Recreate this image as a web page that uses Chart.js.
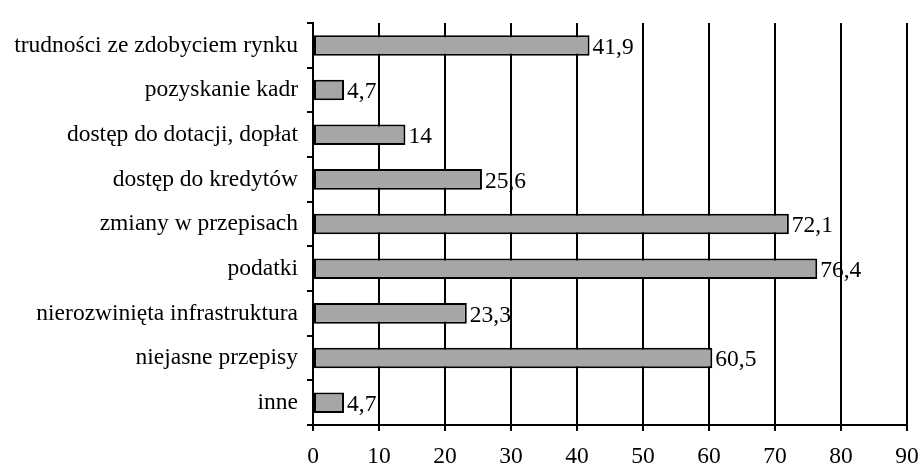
<!DOCTYPE html>
<html>
<head>
<meta charset="utf-8">
<script src="https://cdn.jsdelivr.net/npm/chart.js@4"></script>
<style>
  body { margin: 0; background: #fff; }
  #wrap { width: 919px; height: 465px; }
</style>
</head>
<body>
<div id="wrap"><canvas id="barChart" width="919" height="465"></canvas></div>
<script>
const categories = [
    'trudności ze zdobyciem rynku',
    'pozyskanie kadr',
    'dostęp do dotacji, dopłat',
    'dostęp do kredytów',
    'zmiany w przepisach',
    'podatki',
    'nierozwinięta infrastruktura',
    'niejasne przepisy',
    'inne'
];
const values = [41.9, 4.7, 14, 25.6, 72.1, 76.4, 23.3, 60.5, 4.7];
const xTicks = [0, 10, 20, 30, 40, 50, 60, 70, 80, 90];

const font = { family: '"Liberation Serif", "Times New Roman", serif', size: 23.5 };

// draws the value next to each bar, with a comma decimal
const valueLabels = {
    id: 'valueLabels',
    afterDatasetsDraw(chart) {
        const ctx = chart.ctx;
        const meta = chart.getDatasetMeta(0);
        ctx.save();
        ctx.fillStyle = '#000';
        ctx.font = font.size + 'px ' + font.family;
        ctx.textAlign = 'left';
        ctx.textBaseline = 'middle';
        meta.data.forEach((bar, i) => {
            const txt = String(values[i]).replace('.', ',');
            ctx.fillText(txt, bar.x + 3, bar.y + 2);
        });
        ctx.restore();
    }
};

const data = {
    labels: categories,
    datasets: [{
        data: values,
        backgroundColor: '#a6a6a9',
        borderColor: '#000',
        borderWidth: 2,
        borderSkipped: false,
        categoryPercentage: 1,
        barPercentage: 0.46
    }]
};

const config = {
    type: 'bar',
    data: data,
    options: {
        indexAxis: 'y',
        responsive: false,
        animation: false,
        layout: { padding: { top: 13, right: 0, left: 0, bottom: 0 } },
        plugins: { legend: { display: false }, tooltip: { enabled: false } },
        scales: {
            x: {
                min: 0,
                max: 90,
                afterBuildTicks: (scale) => { scale.ticks = xTicks.map(v => ({ value: v })); },
                afterFit: (scale) => { scale.height = 40; scale.paddingRight = 12; },
                grid: { color: '#000', lineWidth: 2, tickLength: 6, tickColor: '#000' },
                border: { color: '#000', width: 2 },
                ticks: { color: '#000', font: font, padding: 12, maxRotation: 0 }
            },
            y: {
                afterFit: (scale) => { scale.width = 313; },
                grid: { drawOnChartArea: false, offset: true, color: '#000', lineWidth: 2, tickLength: 6 },
                border: { color: '#000', width: 2 },
                ticks: { color: '#000', font: font, padding: 9, autoSkip: false }
            }
        }
    },
    plugins: [valueLabels]
};

// eslint-disable-next-line
const barChart = new Chart(
    document.getElementById('barChart'),
    config
);
</script>
</body>
</html>
